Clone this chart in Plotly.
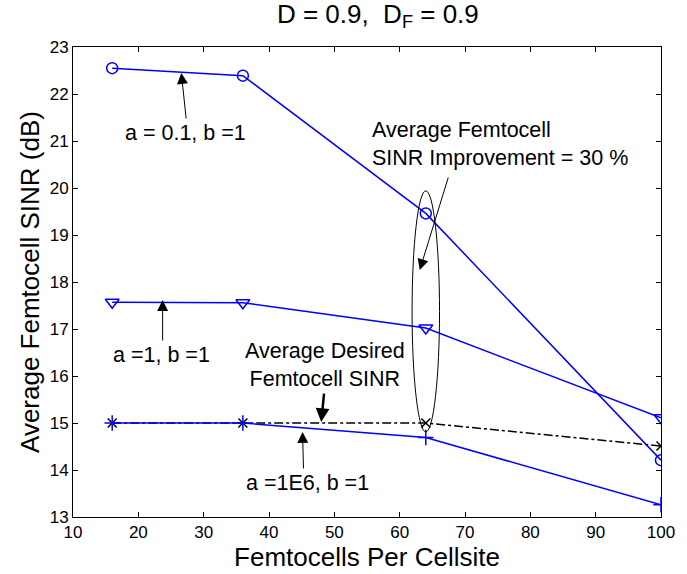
import plotly.graph_objects as go

femtocells = [16, 36, 64, 100]
sinr_a01 = [22.55, 22.39, 19.46, 14.21]
sinr_a1 = [17.57, 17.56, 17.02, 15.11]
sinr_a1e6 = [15.0, 15.0, 14.69, 13.26]
sinr_desired = [15.0, 15.0, 15.0, 14.51]

x_ticks = [10, 20, 30, 40, 50, 60, 70, 80, 90, 100]
y_ticks = [13, 14, 15, 16, 17, 18, 19, 20, 21, 22, 23]

FONT = "Arial, Liberation Sans, sans-serif"
BLUE = "rgb(0,0,255)"

fig = go.Figure()
fig.add_trace(go.Scatter(x=femtocells, y=sinr_desired, mode="lines+markers",
                         line=dict(color="black", width=1.5, dash="dashdot"),
                         marker=dict(symbol="x-thin", size=9, line=dict(color="black", width=1.5)),
                         showlegend=False))
fig.add_trace(go.Scatter(x=femtocells, y=sinr_a01, mode="lines+markers",
                         line=dict(color=BLUE, width=1.5),
                         marker=dict(symbol="circle-open", size=11, color=BLUE, line=dict(width=1.5)),
                         showlegend=False))
fig.add_trace(go.Scatter(x=femtocells, y=sinr_a1, mode="lines+markers",
                         line=dict(color=BLUE, width=1.5),
                         marker=dict(symbol="triangle-down-open", size=12, color=BLUE, line=dict(width=1.5)),
                         showlegend=False))
fig.add_trace(go.Scatter(x=femtocells, y=sinr_a1e6, mode="lines+markers",
                         line=dict(color=BLUE, width=1.5),
                         marker=dict(symbol="cross-thin", size=11, color=BLUE, line=dict(color=BLUE, width=1.5)),
                         showlegend=False))

# ellipse around x=64
fig.add_shape(type="circle", xref="x", yref="y", x0=61.9, x1=66.1, y0=14.81, y1=19.94,
              line=dict(color="black", width=1))

arrows = [
    dict(x=26.58, y=22.447, ax=5, ay=47, w=1),
    dict(x=23.72, y=17.617, ax=0, ay=42, w=1),
    dict(x=47.99, y=15.02, ax=3, ay=-30, w=2.5),
    dict(x=45.13, y=14.81, ax=1, ay=38, w=1),
    dict(x=63.07, y=18.255, ax=29, ay=-94, w=1),
]
for a in arrows:
    fig.add_annotation(x=a["x"], y=a["y"], ax=a["ax"], ay=a["ay"], text="",
                       showarrow=True, arrowhead=2, arrowsize=2.2 if a["w"] == 1 else 1.1,
                       arrowwidth=a["w"], arrowcolor="black")

texts = [
    dict(x=27.19, y=21.17, t="a = 0.1, b =1", xa="center", al="center"),
    dict(x=23.57, y=16.447, t="a =1, b =1", xa="center", al="center"),
    dict(x=48.6, y=16.23, t="Average Desired<br>Femtocell SINR", xa="center", al="center"),
    dict(x=45.88, y=13.72, t="a =1E6, b =1", xa="center", al="center"),
    dict(x=55.4, y=20.93, t="Average Femtocell<br>SINR Improvement = 30 %", xa="left", al="left"),
]
for t in texts:
    fig.add_annotation(x=t["x"], y=t["y"], text=t["t"], showarrow=False,
                       xanchor=t["xa"], align=t["al"],
                       font=dict(family=FONT, size=21.5, color="black"))

fig.update_layout(
    width=687, height=574,
    margin=dict(l=73, r=17, t=47, b=57),
    paper_bgcolor="white", plot_bgcolor="white",
    font=dict(family=FONT, color="black"),
    title=dict(text="D = 0.9,  D<sub>F</sub> = 0.9", x=0.55, xanchor="center", y=0.976, yanchor="middle",
               font=dict(family=FONT, size=26, color="black")),
)
fig.update_xaxes(range=[10, 100], tickvals=x_ticks, ticks="inside", ticklen=5, tickcolor="black",
                 showline=True, linecolor="black", linewidth=1, mirror="ticks", showgrid=False,
                 zeroline=False, tickfont=dict(family=FONT, size=17, color="black"),
                 title=dict(text="Femtocells Per Cellsite", font=dict(family=FONT, size=26, color="black"), standoff=0))
fig.update_yaxes(range=[13, 23], tickvals=y_ticks, ticks="inside", ticklen=5, tickcolor="black",
                 showline=True, linecolor="black", linewidth=1, mirror="ticks", showgrid=False,
                 zeroline=False, tickfont=dict(family=FONT, size=17, color="black"),
                 title=dict(text="Average Femtocell SINR (dB)", font=dict(family=FONT, size=26, color="black"), standoff=2))

fig.write_html("out.html")
